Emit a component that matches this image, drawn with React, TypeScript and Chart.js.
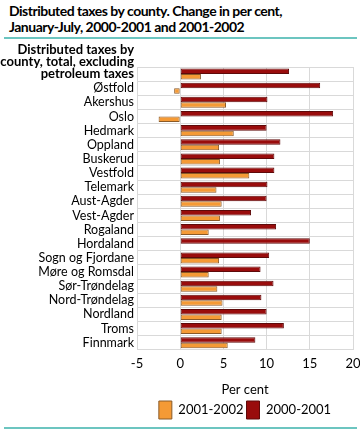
import React, { useEffect, useRef } from "react";
import { Chart, registerables } from "chart.js";

Chart.register(...registerables);

const categories: (string | string[])[] = [
  ["Distributed taxes by", "county, total, excluding", "petroleum taxes", "", ""],
  "Østfold",
  "Akershus",
  "Oslo",
  "Hedmark",
  "Oppland",
  "Buskerud",
  "Vestfold",
  "Telemark",
  "Aust-Agder",
  "Vest-Agder",
  "Rogaland",
  "Hordaland",
  "Sogn og Fjordane",
  "Møre og Romsdal",
  "Sør-Trøndelag",
  "Nord-Trøndelag",
  "Nordland",
  "Troms",
  "Finnmark",
];

const values2000_2001 = [12.6, 16.2, 10.1, 17.7, 10.0, 11.6, 10.9, 10.9, 10.1, 10.0, 8.2, 11.1, 15.0, 10.3, 9.3, 10.8, 9.4, 10.0, 12.0, 8.7];
const values2001_2002 = [2.4, -0.7, 5.3, -2.5, 6.2, 4.5, 4.6, 8.0, 4.2, 4.8, 4.6, 3.3, 0.0, 4.5, 3.3, 4.3, 4.9, 4.8, 4.8, 5.5];

const xMin = -5;
const xMax = 20;
const xStep = 5;
const xTitle = "Per cent";
const seriesNames = ["2000-2001", "2001-2002"];
const titleLines = ["Distributed taxes by county. Change in per cent,", "January-July, 2000-2001 and 2001-2002"];

const FONT = "Lato, 'Open Sans', sans-serif";

export default function App() {
  const canvasRef = useRef<HTMLCanvasElement | null>(null);

  useEffect(() => {
    document.body.style.margin = "0";
    const canvas = canvasRef.current;
    if (!canvas) return;
    const chart = new Chart(canvas, {
      type: "bar",
      data: {
        labels: categories,
        datasets: [
          {
            label: seriesNames[0],
            data: values2000_2001,
            backgroundColor: "#990c0c",
            borderColor: "#5e0a0a",
            borderWidth: 1,
            borderSkipped: false,
            categoryPercentage: 0.78,
            barPercentage: 1,
          },
          {
            label: seriesNames[1],
            data: values2001_2002,
            backgroundColor: "#f59a35",
            borderColor: "#8a5a28",
            borderWidth: 1,
            borderSkipped: false,
            categoryPercentage: 0.78,
            barPercentage: 1,
          },
        ],
      },
      options: {
        indexAxis: "y",
        animation: false,
        responsive: false,
        maintainAspectRatio: false,
        layout: { padding: { left: 0, right: 7, top: 27, bottom: 0 } },
        plugins: {
          title: { display: false },
          tooltip: { enabled: false },
          legend: {
            display: true,
            position: "bottom",
            reverse: true,
            fullSize: false,
            labels: {
              boxWidth: 13,
              boxHeight: 18,
              padding: 3,
              color: "#000",
              font: { family: FONT, size: 13 },
            },
          },
        },
        scales: {
          x: {
            min: xMin,
            max: xMax,
            ticks: {
              stepSize: xStep,
              color: "#000",
              padding: 6,
              font: { family: FONT, size: 13 },
            },
            grid: { color: "#d9d9d9", drawTicks: false },
            border: { color: "#d9d9d9" },
            title: {
              display: true,
              text: xTitle,
              color: "#000",
              font: { family: FONT, size: 13 },
              padding: { top: 5, bottom: 0 },
            },
            afterFit: (scale: any) => {
              scale.paddingLeft = 0;
              scale.paddingRight = 0;
            },
          },
          y: {
            ticks: {
              color: "#000",
              padding: 3,
              autoSkip: false,
              font: (ctx: any) =>
                ctx.index === 0
                  ? { family: FONT, size: 13, weight: "bold", lineHeight: 0.95 }
                  : { family: FONT, size: 12.5, lineHeight: 1.05 },
            },
            grid: { color: "#d9d9d9", drawTicks: false },
            border: { color: "#d9d9d9" },
            afterFit: (scale: any) => {
              scale.width = 137;
              scale.paddingTop = 0;
              scale.paddingBottom = 0;
            },
          },
        },
      },
    });
    return () => chart.destroy();
  }, []);

  return (
    <div style={{ position: "absolute", left: 0, top: 0, width: 360, height: 431, background: "#fff", fontFamily: FONT }}>
      <div style={{ position: "absolute", left: 9, top: 3, fontWeight: "bold", fontSize: 14, letterSpacing: "-0.5px", lineHeight: "16px", color: "#000" }}>
        {titleLines.map((t, i) => (
          <div key={i}>{t}</div>
        ))}
      </div>
      <div style={{ position: "absolute", left: 4, top: 37, width: 353, height: 2, background: "#6cc5c0" }} />
      <canvas ref={canvasRef} width={360} height={389} style={{ position: "absolute", left: 0, top: 40, width: 360, height: 389 }} />
      <div style={{ position: "absolute", left: 4, top: 427, width: 353, height: 2, background: "#6cc5c0" }} />
    </div>
  );
}
